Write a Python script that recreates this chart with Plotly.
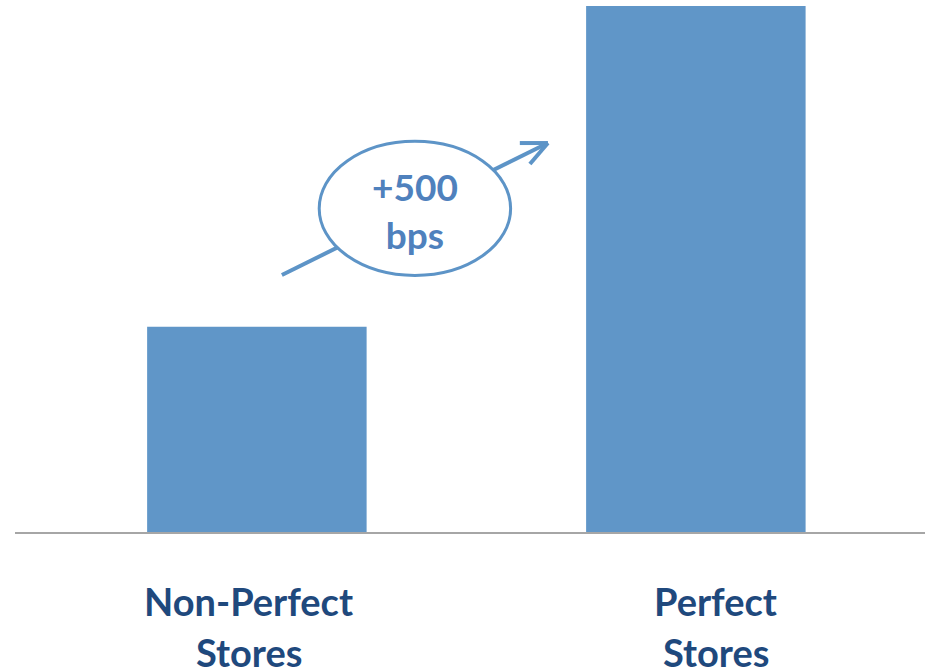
import plotly.graph_objects as go

# Store categories and their values (bps)
categories = ["Non-Perfect<br>Stores", "Perfect<br>Stores"]
values = [320, 820]
uplift_label = "+500<br>bps"

BAR_COLOR = "#6096C8"
LINE_COLOR = "#5D94C7"
LABEL_COLOR = "#1F497D"
CALLOUT_TEXT = "#4F81BD"
FONT = "Lato"

x_pos = list(range(len(categories)))

fig = go.Figure(
    go.Bar(
        x=x_pos,
        y=values,
        width=0.5,
        marker=dict(color=BAR_COLOR, line=dict(width=0)),
        hoverinfo="skip",
    )
)

# Category labels, one annotation per line so line spacing can be set freely
label_shift = [-8, 20]
line_y = [-0.1306, -0.2260]
for i, cat in enumerate(categories):
    for j, part in enumerate(cat.split("<br>")):
        fig.add_annotation(
            x=x_pos[i], y=line_y[j], xref="x", yref="paper",
            text=f"<b>{part}</b>", showarrow=False,
            xshift=label_shift[i], yanchor="middle",
            font=dict(family=FONT, size=38, color=LABEL_COLOR),
        )

# Rising arrow from the lower bar toward the taller one
fig.add_shape(type="line", x0=0.057, y0=400.6, x1=0.663, y1=606.4,
              xref="x", yref="y", line=dict(color=LINE_COLOR, width=4))
fig.add_shape(type="line", x0=0.599, y0=606.4, x1=0.663, y1=606.4,
              xref="x", yref="y", line=dict(color=LINE_COLOR, width=4))
fig.add_shape(type="line", x0=0.622, y0=573.7, x1=0.663, y1=606.4,
              xref="x", yref="y", line=dict(color=LINE_COLOR, width=4))

# Ellipse callout holding the uplift figure
fig.add_shape(type="circle", x0=0.142, x1=0.578, y0=400.0, y1=609.0,
              xref="x", yref="y", fillcolor="white",
              line=dict(color=LINE_COLOR, width=3))
fig.add_annotation(
    x=0.36, y=502, xref="x", yref="y",
    text=f"<b>{uplift_label}</b>", showarrow=False,
    font=dict(family=FONT, size=37, color=CALLOUT_TEXT),
)

fig.update_layout(
    width=925, height=669,
    margin=dict(l=15, r=0, t=0, b=137),
    paper_bgcolor="white", plot_bgcolor="white",
    showlegend=False,
    xaxis=dict(
        range=[-0.551, 1.522], showgrid=False, zeroline=False,
        showticklabels=False, ticks="",
        showline=True, linecolor="#A6A6A6", linewidth=2,
    ),
    yaxis=dict(
        range=[0, 829.4], showgrid=False, zeroline=False,
        showticklabels=False, ticks="", showline=False,
    ),
)

fig.write_html("out.html")
